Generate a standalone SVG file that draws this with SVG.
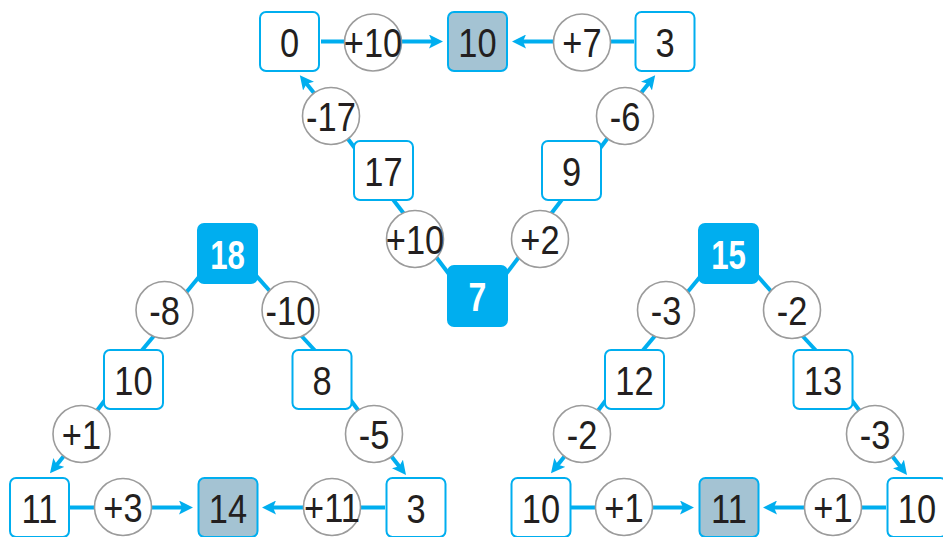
<svg xmlns="http://www.w3.org/2000/svg" width="943" height="537" viewBox="0 0 943 537">
<defs>
<style>
.b{fill:#fff;stroke:#00AEEF;stroke-width:2}
.g{fill:#A4C3D3;stroke:#00AEEF;stroke-width:2}
.s{fill:#00AEEF;stroke:#00AEEF;stroke-width:2}
.c{fill:#fff;stroke:#9B9B9B;stroke-width:1.6}
.t{font-family:"Liberation Sans",Arial,sans-serif;font-size:41px;fill:#231F20;text-anchor:middle}
.w{font-family:"Liberation Sans",Arial,sans-serif;font-size:40px;font-weight:bold;fill:#fff;text-anchor:middle}
.l{stroke:#00AEEF;stroke-width:4;fill:none}
.a{stroke:#00AEEF;stroke-width:4;fill:none;marker-end:url(#ah)}
</style>
<marker id="ah" markerUnits="userSpaceOnUse" viewBox="0 0 14 14" markerWidth="14" markerHeight="14" refX="6" refY="7" orient="auto">
<path d="M0,0 L14,7 L0,14 L3,7 Z" fill="#00AEEF"/>
</marker>
</defs>
<g id="connectors">
<line class="a" x1="321" y1="41.5" x2="435" y2="41.5"/>
<line class="a" x1="634" y1="41.5" x2="520" y2="41.5"/>
<line class="a" x1="318" y1="98" x2="304.8" y2="81.4"/>
<line class="a" x1="637" y1="98" x2="650.2" y2="81.4"/>
<line class="l" x1="342" y1="131" x2="360" y2="155"/>
<line class="l" x1="388" y1="193" x2="408" y2="219"/>
<line class="l" x1="430" y1="249" x2="455" y2="282"/>
<line class="l" x1="613" y1="131" x2="595" y2="155"/>
<line class="l" x1="567" y1="193" x2="547" y2="219"/>
<line class="l" x1="525" y1="249" x2="500" y2="282"/>
<line class="l" x1="203" y1="272" x2="180" y2="300"/>
<line class="l" x1="158" y1="331" x2="138" y2="355"/>
<line class="l" x1="108" y1="396" x2="93" y2="416"/>
<line class="a" x1="67.5" y1="451.5" x2="55" y2="467.1"/>
<line class="l" x1="253" y1="272" x2="276" y2="298"/>
<line class="l" x1="296" y1="330" x2="320" y2="356"/>
<line class="l" x1="346" y1="394" x2="364" y2="418"/>
<line class="a" x1="388.8" y1="452.9" x2="401.1" y2="468.7"/>
<line class="a" x1="70" y1="507.5" x2="185" y2="507.5"/>
<line class="a" x1="385" y1="507.5" x2="270" y2="507.5"/>
<line class="l" x1="704" y1="272" x2="681" y2="300"/>
<line class="l" x1="659" y1="331" x2="639" y2="355"/>
<line class="l" x1="609" y1="396" x2="594" y2="416"/>
<line class="a" x1="568.5" y1="451.5" x2="556" y2="467.1"/>
<line class="l" x1="754" y1="272" x2="777" y2="298"/>
<line class="l" x1="797" y1="330" x2="821" y2="356"/>
<line class="l" x1="847" y1="394" x2="865" y2="418"/>
<line class="a" x1="889.8" y1="452.9" x2="902.1" y2="468.7"/>
<line class="a" x1="571" y1="507.5" x2="686" y2="507.5"/>
<line class="a" x1="886" y1="507.5" x2="771" y2="507.5"/>
</g>
<g id="n-top-0"><rect class="b" x="260" y="12" width="59" height="59" rx="6"/><text class="t" transform="translate(289.5 56.5) scale(0.84 1)">0</text></g>
<g id="c-top-p10"><circle class="c" cx="373" cy="42.5" r="28.5"/><text class="t" transform="translate(373 57) scale(0.84 1)">+10</text></g>
<g id="n-top-10"><rect class="g" x="448" y="12" width="59" height="59" rx="6"/><text class="t" transform="translate(477.5 56.5) scale(0.84 1)">10</text></g>
<g id="c-top-p7"><circle class="c" cx="582" cy="42.5" r="28.5"/><text class="t" transform="translate(582 57) scale(0.84 1)">+7</text></g>
<g id="n-top-3"><rect class="b" x="635.5" y="12" width="59" height="59" rx="6"/><text class="t" transform="translate(665 56.5) scale(0.84 1)">3</text></g>
<g id="c-top-m17"><circle class="c" cx="331" cy="116" r="28.5"/><text class="t" transform="translate(331 130.5) scale(0.84 1)">-17</text></g>
<g id="n-top-17"><rect class="b" x="354" y="141" width="59" height="59" rx="6"/><text class="t" transform="translate(383.5 185.5) scale(0.84 1)">17</text></g>
<g id="c-top-p10b"><circle class="c" cx="415" cy="239" r="28.5"/><text class="t" transform="translate(415 253.5) scale(0.84 1)">+10</text></g>
<g id="n-top-7"><rect class="s" x="448" y="266" width="59" height="60" rx="6"/><text class="w" transform="translate(477.5 310.5) scale(0.8 1)">7</text></g>
<g id="c-top-p2"><circle class="c" cx="540" cy="239" r="28.5"/><text class="t" transform="translate(540 253.5) scale(0.84 1)">+2</text></g>
<g id="n-top-9"><rect class="b" x="542" y="141" width="59" height="59" rx="6"/><text class="t" transform="translate(571.5 185.5) scale(0.84 1)">9</text></g>
<g id="c-top-m6"><circle class="c" cx="625" cy="116" r="28.5"/><text class="t" transform="translate(625 130.5) scale(0.84 1)">-6</text></g>
<g id="n-l-18"><rect class="s" x="198" y="224" width="59" height="59" rx="6"/><text class="w" transform="translate(227.5 268.5) scale(0.78 1)">18</text></g>
<g id="c-l-m8"><circle class="c" cx="164.5" cy="310" r="28.5"/><text class="t" transform="translate(164.5 324.5) scale(0.84 1)">-8</text></g>
<g id="c-l-m10"><circle class="c" cx="290.5" cy="310" r="28.5"/><text class="t" transform="translate(290.5 324.5) scale(0.84 1)">-10</text></g>
<g id="n-l-10"><rect class="b" x="104" y="350" width="59" height="59" rx="6"/><text class="t" transform="translate(133.5 394.5) scale(0.84 1)">10</text></g>
<g id="n-l-8"><rect class="b" x="292.5" y="350" width="59" height="59" rx="6"/><text class="t" transform="translate(322 394.5) scale(0.84 1)">8</text></g>
<g id="c-l-p1"><circle class="c" cx="81.5" cy="434" r="28.5"/><text class="t" transform="translate(81.5 448.5) scale(0.84 1)">+1</text></g>
<g id="c-l-m5"><circle class="c" cx="374" cy="434" r="28.5"/><text class="t" transform="translate(374 448.5) scale(0.84 1)">-5</text></g>
<g id="n-l-11"><rect class="b" x="10" y="478" width="59" height="59" rx="6"/><text class="t" transform="translate(39.5 522.5) scale(0.84 1)">11</text></g>
<g id="c-l-p3"><circle class="c" cx="123" cy="507" r="28.5"/><text class="t" transform="translate(123 521.5) scale(0.84 1)">+3</text></g>
<g id="n-l-14"><rect class="g" x="198.5" y="478" width="59" height="59" rx="6"/><text class="t" transform="translate(228 522.5) scale(0.84 1)">14</text></g>
<g id="c-l-p11"><circle class="c" cx="332" cy="507" r="28.5"/><text class="t" transform="translate(332 521.5) scale(0.84 1)">+11</text></g>
<g id="n-l-3"><rect class="b" x="386.5" y="478" width="59" height="59" rx="6"/><text class="t" transform="translate(416 522.5) scale(0.84 1)">3</text></g>
<g id="n-r-15"><rect class="s" x="699" y="224" width="59" height="59" rx="6"/><text class="w" transform="translate(728.5 268.5) scale(0.78 1)">15</text></g>
<g id="c-r-m3"><circle class="c" cx="666" cy="310" r="28.5"/><text class="t" transform="translate(666 324.5) scale(0.84 1)">-3</text></g>
<g id="c-r-m2"><circle class="c" cx="792" cy="310" r="28.5"/><text class="t" transform="translate(792 324.5) scale(0.84 1)">-2</text></g>
<g id="n-r-12"><rect class="b" x="605" y="350" width="59" height="59" rx="6"/><text class="t" transform="translate(634.5 394.5) scale(0.84 1)">12</text></g>
<g id="n-r-13"><rect class="b" x="793.5" y="350" width="59" height="59" rx="6"/><text class="t" transform="translate(823 394.5) scale(0.84 1)">13</text></g>
<g id="c-r-m2b"><circle class="c" cx="582" cy="434" r="28.5"/><text class="t" transform="translate(582 448.5) scale(0.84 1)">-2</text></g>
<g id="c-r-m3b"><circle class="c" cx="875" cy="434" r="28.5"/><text class="t" transform="translate(875 448.5) scale(0.84 1)">-3</text></g>
<g id="n-r-10a"><rect class="b" x="511.5" y="478" width="59" height="59" rx="6"/><text class="t" transform="translate(541 522.5) scale(0.84 1)">10</text></g>
<g id="c-r-p1a"><circle class="c" cx="624" cy="507" r="28.5"/><text class="t" transform="translate(624 521.5) scale(0.84 1)">+1</text></g>
<g id="n-r-11"><rect class="g" x="699.5" y="478" width="59" height="59" rx="6"/><text class="t" transform="translate(729 522.5) scale(0.84 1)">11</text></g>
<g id="c-r-p1b"><circle class="c" cx="833" cy="507" r="28.5"/><text class="t" transform="translate(833 521.5) scale(0.84 1)">+1</text></g>
<g id="n-r-10b"><rect class="b" x="887.5" y="478" width="59" height="59" rx="6"/><text class="t" transform="translate(917 522.5) scale(0.84 1)">10</text></g>
</svg>
